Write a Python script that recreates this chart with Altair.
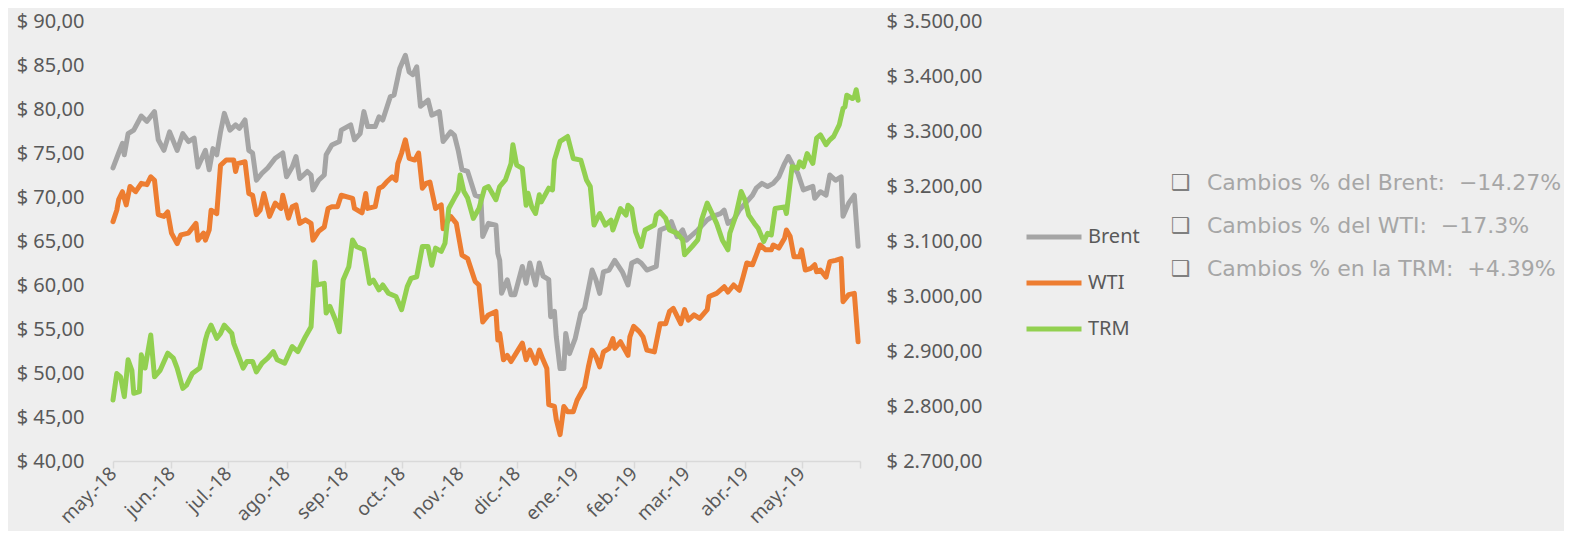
import altair as alt
import pandas as pd

BASE_DATE = "2018-05-01"

# Brent (USD) - day offset from 2018-05-01 and value
brent_day = [0,3,5,6,8,11,15,18,22,24,
             27,30,34,37,40,43,45,49,51,53,
             55,57,59,62,65,67,70,72,74,76,
             79,82,86,90,92,95,97,99,103,105,
             106,109,112,113,116,120,121,126,128,131,
             133,135,139,141,143,147,149,152,155,157,
             159,161,163,167,169,173,175,179,181,183,
             185,188,192,195,196,199,203,204,205,206,
             209,211,213,217,219,221,224,226,228,231,
             232,234,235,237,239,240,242,245,248,250,
             254,256,258,260,263,266,270,273,275,278,
             280,283,288,290,294,296,299,302,304,310,
             315,318,322,324,326,329,332,339,341,344,
             347,350,353,356,358,361,363,366,371,372,
             375,378,380,383,386,387,390,393,395]
brent_val = [73.3,75.0,76.1,74.8,77.2,77.6,79.2,78.6,79.7,76.5,
             75.3,77.4,75.3,77.2,76.3,76.7,73.4,75.3,73.1,75.5,
             74.8,77.4,79.5,77.6,78.2,77.8,78.75,75.3,75.0,71.9,
             72.7,73.3,74.4,75.0,72.3,73.4,74.6,72.1,72.9,72.5,
             70.8,71.9,72.5,74.8,75.9,76.3,77.6,78.2,76.5,77.2,
             79.7,78.0,78.0,79.1,78.75,81.4,81.6,84.6,86.1,84.2,
             83.9,84.8,80.3,81.0,79.3,79.7,76.3,77.4,77.0,75.3,
             73.1,72.9,70.2,70.0,65.5,67.0,66.8,63.6,62.8,59.05,
             60.6,58.9,58.9,62.1,60.2,62.5,60.0,62.5,61.0,60.6,
             56.4,57.0,54.1,50.5,50.5,54.5,52.2,53.9,56.8,57.35,
             61.7,60.6,59.05,61.5,61.7,62.8,61.5,60.0,62.5,62.8,
             62.5,61.7,62.1,66.25,66.6,67.2,65.5,66.25,65.1,66.25,
             67.4,67.8,68.1,68.5,67.0,67.4,68.5,70.2,71.0,71.55,
             71.2,71.55,72.3,73.8,74.6,73.4,72.7,70.8,71.2,69.85,
             70.6,70.2,72.5,71.9,72.3,67.8,69.3,70.2,64.4]

# WTI (USD)
wti_day = [0,2,3,5,7,9,12,15,18,20,
           22,24,27,29,31,34,36,40,44,45,
           48,49,51,52,55,57,60,64,65,66,
           70,72,74,76,78,80,83,86,89,90,
           93,95,97,99,102,105,106,109,112,114,
           116,119,121,127,128,132,134,135,139,141,
           143,145,148,150,151,153,155,157,160,162,
           164,166,168,171,174,175,179,182,185,188,
           192,194,196,199,203,204,205,207,209,211,
           213,217,219,221,224,226,228,230,231,234,
           235,237,239,241,244,246,249,250,252,254,
           256,258,260,263,265,266,269,273,274,276,
           279,281,283,287,290,293,295,297,301,303,
           305,308,311,315,316,320,324,326,329,332,
           334,336,339,341,343,346,349,350,353,356,
           357,359,361,364,365,367,370,372,373,375,
           378,380,383,386,387,390,393,395]
wti_val = [67.2,68.5,69.7,70.6,69.1,71.2,70.6,71.55,71.4,72.3,
           71.9,68.0,67.8,68.3,65.9,64.7,65.7,65.9,67.0,65.1,
           65.9,65.1,66.25,68.5,68.1,73.6,74.2,74.2,72.9,73.8,
           74.0,70.4,70.2,68.0,68.5,70.4,67.8,69.3,68.7,70.2,
           67.6,68.9,69.1,67.0,67.4,67.0,65.1,66.1,66.6,68.7,
           68.9,68.9,70.2,69.85,68.7,68.2,70.4,68.7,68.9,71.0,
           71.2,71.7,72.3,71.9,73.8,75.0,76.5,74.4,74.2,75.0,
           71.0,71.55,71.7,68.7,69.1,66.4,67.8,67.0,63.4,63.0,
           60.4,60.0,55.8,56.6,57.0,53.75,54.5,51.5,52.0,51.3,
           52.0,53.4,51.5,52.6,51.1,52.6,51.5,50.5,46.4,46.2,
           44.7,43.0,46.2,45.6,45.6,46.9,48.1,48.4,50.7,52.6,
           51.85,50.7,52.4,52.8,53.9,52.8,53.55,52.0,54.1,55.3,
           54.7,54.1,52.6,52.4,55.6,55.6,57.0,57.35,55.6,57.2,
           56.0,56.6,56.2,57.2,58.7,59.05,59.8,59.2,60.0,59.4,
           60.9,62.5,62.3,63.4,64.55,64.0,64.0,64.55,64.2,65.3,
           66.25,65.5,63.2,63.2,64.0,61.7,61.9,62.3,61.5,61.7,
           60.9,62.65,62.8,63.0,58.1,58.9,59.05,53.55]

# TRM (COP per USD)
trm_day = [0,2,4,6,8,10,11,14,15,17,
           20,22,25,29,32,34,37,39,42,46,
           49,50,52,55,57,59,63,64,67,69,
           71,74,76,79,82,85,87,91,95,98,
           102,105,107,108,112,113,115,118,120,122,
           125,127,129,133,136,138,141,143,146,150,
           153,156,158,161,164,167,169,171,174,176,
           178,181,183,184,186,188,191,194,197,199,
           203,205,208,211,212,214,217,219,220,222,
           224,226,227,231,233,234,237,241,244,248,
           251,253,255,258,261,264,265,269,272,273,
           275,277,280,282,287,288,290,293,295,299,
           302,303,307,310,312,315,318,320,323,326,
           327,330,333,335,337,340,342,345,347,349,
           351,356,357,360,363,364,366,368,371,373,
           375,378,380,382,385,387,388,389,392,393,
           394,395]
trm_val = [2811,2859,2853,2817,2884,2865,2823,2826,2893,2869,
           2929,2853,2865,2896,2887,2869,2832,2838,2859,2869,
           2920,2932,2947,2923,2932,2947,2932,2914,2887,2869,
           2881,2881,2862,2878,2887,2899,2884,2878,2908,2899,
           2926,2944,3062,3020,3023,2969,2981,2956,2935,3029,
           3053,3102,3090,3084,3023,3029,3011,3020,3005,2999,
           2975,3017,3032,3035,3090,3090,3056,3087,3081,3096,
           3159,3178,3190,3220,3190,3178,3141,3159,3196,3199,
           3175,3199,3211,3241,3275,3238,3232,3165,3187,3162,
           3150,3184,3171,3196,3193,3247,3281,3290,3250,3247,
           3211,3199,3129,3150,3129,3138,3120,3159,3147,3165,
           3159,3117,3090,3120,3129,3147,3153,3141,3120,3114,
           3102,3075,3090,3102,3138,3169,3147,3132,3102,3084,
           3114,3144,3190,3175,3147,3132,3123,3099,3114,3111,
           3159,3162,3150,3235,3232,3244,3235,3259,3241,3287,
           3293,3275,3284,3290,3311,3341,3344,3365,3359,3362,
           3375,3356]

series_names = ["Brent", "WTI", "TRM"]
series_colors = ["#A5A5A5", "#ED7D31", "#92D050"]

month_labels = ["may.-18", "jun.-18", "jul.-18", "ago.-18", "sep.-18", "oct.-18",
                "nov.-18", "dic.-18", "ene.-19", "feb.-19", "mar.-19", "abr.-19",
                "may.-19", ""]
month_ticks = [(2018, m) for m in range(5, 13)] + [(2019, m) for m in range(1, 7)]
left_ticks = [40, 45, 50, 55, 60, 65, 70, 75, 80, 85, 90]
right_ticks = [2700, 2800, 2900, 3000, 3100, 3200, 3300, 3400, 3500]

note_lines = ["Cambios % del Brent:\u00a0 \u221214.27%",
              "Cambios % del WTI:\u00a0 \u221217.3%",
              "Cambios % en la TRM:\u00a0 +4.39%"]
note_box = "\u2751"


def to_dates(days):
    idx = pd.Timestamp(BASE_DATE) + pd.to_timedelta(days, unit="D")
    return list(idx.strftime("%Y-%m-%dT00:00:00"))


oil_df = pd.concat([
    pd.DataFrame({"date": to_dates(brent_day), "value": brent_val, "series": "Brent"}),
    pd.DataFrame({"date": to_dates(wti_day), "value": wti_val, "series": "WTI"}),
])
trm_df = pd.DataFrame({"date": to_dates(trm_day), "value": trm_val, "series": "TRM"})
notes_df = pd.DataFrame({"note": ["\n".join(note_lines)],
                         "box": ["\n".join([note_box] * len(note_lines))]})

label_js = "[" + ",".join("'" + s + "'" for s in month_labels) + "]"
x_label_expr = label_js + "[(year(datum.value)-2018)*12 + month(datum.value) - 4]"

FONT = "Noto Sans"
AX_COLOR = "#595959"

x_enc = alt.X(
    "date:T",
    scale=alt.Scale(domain=[alt.DateTime(year=2018, month=5, date=1),
                            alt.DateTime(year=2019, month=6, date=1)]),
    axis=alt.Axis(
        values=[alt.DateTime(year=y, month=m, date=1) for y, m in month_ticks],
        labelExpr=x_label_expr,
        title=None, grid=False,
        domainColor="#D9D9D9", domainWidth=1.5,
        tickColor="#D9D9D9", tickWidth=1.5, tickSize=7,
        labelAngle=-45, labelAlign="right", labelBaseline="middle",
        labelPadding=2, labelFontSize=19, labelFont=FONT, labelColor=AX_COLOR,
        labelOverlap=False, labelBound=False,
    ),
)

legend = alt.Legend(
    orient="none", legendX=911, legendY=205, title=None,
    symbolType="stroke", symbolSize=3025, symbolStrokeWidth=5,
    labelFontSize=20, labelFont=FONT, labelColor=AX_COLOR, labelOffset=4,
    clipHeight=22, rowPadding=24, padding=0,
)
color_enc = alt.Color("series:N",
                      scale=alt.Scale(domain=series_names, range=series_colors),
                      legend=legend)

LINE_W = 5

oil = alt.Chart(oil_df).mark_line(strokeWidth=LINE_W, strokeCap="round", strokeJoin="round").encode(
    x=x_enc,
    y=alt.Y("value:Q",
            scale=alt.Scale(domain=[40, 90], nice=False, zero=False),
            axis=alt.Axis(values=left_ticks, orient="left", title=None, grid=False,
                          domain=False, ticks=False, tickSize=0, labelPadding=29,
                          labelFontSize=20, labelFont=FONT, labelColor=AX_COLOR,
                          labelExpr="'$ ' + replace(format(datum.value, '.2f'), '.', ',')")),
    color=color_enc,
)

trm = alt.Chart(trm_df).mark_line(strokeWidth=LINE_W, strokeCap="round", strokeJoin="round").encode(
    x=x_enc,
    y=alt.Y("value:Q",
            scale=alt.Scale(domain=[2700, 3500], nice=False, zero=False),
            axis=alt.Axis(values=right_ticks, orient="right", title=None, grid=False,
                          domain=False, ticks=False, tickSize=0, labelPadding=26,
                          labelFontSize=20, labelFont=FONT, labelColor=AX_COLOR,
                          labelExpr="'$ ' + replace(replace(replace(format(datum.value, ',.2f'), ',', '#'), '.', ','), '#', '.')")),
    color=color_enc,
)

boxes = alt.Chart(notes_df).mark_text(
    align="left", baseline="middle", lineBreak="\n", lineHeight=43,
    font="DejaVu Sans", fontSize=22, color="#7F7F7F",
).encode(x=alt.value(1058), y=alt.value(162), text="box:N")

notes = alt.Chart(notes_df).mark_text(
    align="left", baseline="middle", lineBreak="\n", lineHeight=43,
    font="DejaVu Sans", fontSize=22, color="#A6A6A6",
).encode(x=alt.value(1094), y=alt.value(162), text="note:N")

chart = alt.layer(oil, trm, boxes, notes).resolve_scale(
    y="independent"
).properties(
    width=747, height=440,
    padding={"left": 105, "top": 13, "right": 704, "bottom": 70},
    autosize=alt.AutoSizeParams(type="none"),
    background="#EEEEEE",
).configure_view(strokeWidth=0)

chart.save("out.html", embed_options={"renderer": "svg", "actions": False})
